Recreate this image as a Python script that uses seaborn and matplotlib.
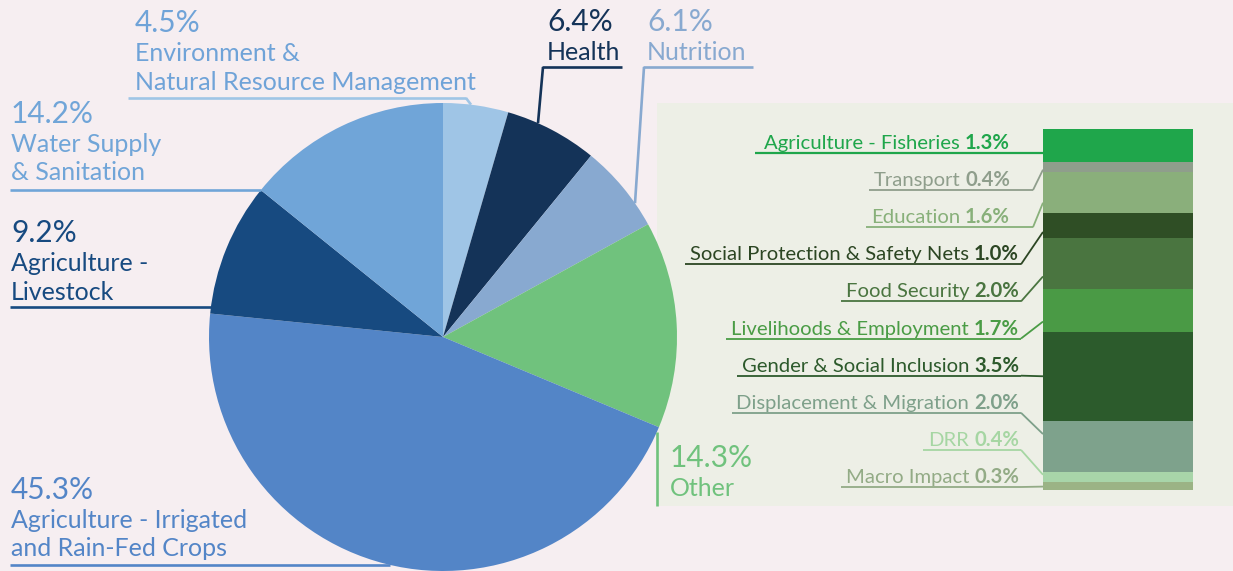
import numpy as np
import pandas as pd
import seaborn as sns
import matplotlib
matplotlib.use("Agg")
import matplotlib.pyplot as plt
from matplotlib.patches import Rectangle

# ---------------- data ----------------
sectors = ["Environment &\nNatural Resource Management", "Health", "Nutrition", "Other",
           "Agriculture - Irrigated\nand Rain-Fed Crops", "Agriculture -\nLivestock",
           "Water Supply\n& Sanitation"]
shares = [4.5, 6.4, 6.1, 14.3, 45.3, 9.2, 14.2]
share_labels = ["4.5%", "6.4%", "6.1%", "14.3%", "45.3%", "9.2%", "14.2%"]
pie_colors = ["#9fc5e6", "#143358", "#88a9d0", "#70c27d", "#5385c7", "#174a80", "#70a5d8"]
text_colors = ["#6fa3d8", "#143358", "#88a9d0", "#70c27d", "#5385c7", "#174a80", "#70a5d8"]
line_colors = ["#9fc5e6", "#143358", "#88a9d0", "#70c27d", "#5385c7", "#174a80", "#70a5d8"]

other_cats = ["Agriculture - Fisheries", "Transport", "Education",
              "Social Protection & Safety Nets", "Food Security",
              "Livelihoods & Employment", "Gender & Social Inclusion",
              "Displacement & Migration", "DRR", "Macro Impact"]
other_vals = [1.3, 0.4, 1.6, 1.0, 2.0, 1.7, 3.5, 2.0, 0.4, 0.3]
other_labels = ["1.3%", "0.4%", "1.6%", "1.0%", "2.0%", "1.7%", "3.5%", "2.0%", "0.4%", "0.3%"]
bar_colors = ["#1fa64b", "#8f9e8c", "#8aaf7b", "#2f4e25", "#4a7540",
              "#4a9a45", "#2c5b2c", "#7ea28c", "#a8d5a9", "#9bb385"]
other_text_colors = ["#1fa64b", "#8f9e8c", "#88b07a", "#2c4623", "#4a7540",
                     "#4a9c45", "#2d5a2c", "#7ea08a", "#a6d6a3", "#93ab86"]

# ---------------- style ----------------
sns.set_theme(style="white")
FONT = ["Lato", "DejaVu Sans"]
plt.rcParams["font.family"] = FONT

W, H = 1233, 571
BG = "#f6eef1"
PANEL = "#edefe6"

fig = plt.figure(figsize=(W / 100, H / 100), dpi=100, facecolor=BG)
ax = fig.add_axes([0, 0, 1, 1])
ax.set_facecolor(BG)


def Y(yp):
    return H - yp


# panel behind the pie
ax.add_patch(Rectangle((657, Y(506)), W - 657 + 5, 403, facecolor=PANEL, edgecolor="none", zorder=0))

# pie
CX, CY, R = 443, 337, 234
ax.pie(shares, colors=pie_colors, startangle=90, counterclock=False,
       center=(CX, Y(CY)), radius=R, wedgeprops=dict(linewidth=0))
ax.set_xlim(0, W)
ax.set_ylim(0, H)
ax.set_aspect("auto")
ax.axis("off")


def circ_y(x, lower=False):
    d = np.sqrt(R ** 2 - (x - CX) ** 2)
    return CY + d if lower else CY - d


def circ_x(y):
    return CX - np.sqrt(R ** 2 - (y - CY) ** 2)


PCT_FS = 21.5
NAME_FS = 18
LW = 1.9


def pie_label(i, x, pct_base, line_gap=28.5):
    ax.text(x, Y(pct_base), share_labels[i], fontsize=PCT_FS, color=text_colors[i],
            va="baseline", ha="left")
    for k, line in enumerate(sectors[i].split("\n")):
        ax.text(x, Y(pct_base + 29 + k * line_gap), line, fontsize=NAME_FS,
                color=text_colors[i], va="baseline", ha="left")


def seg(x0, y0, x1, y1, color, lw=LW):
    ax.plot([x0, x1], [Y(y0), Y(y1)], color=color, lw=lw, solid_capstyle="butt", zorder=3)


# Environment
pie_label(0, 135, 32)
seg(128, 98, 466, 98, line_colors[0])
seg(466, 98, 471, circ_y(471), line_colors[0])
# Health
pie_label(1, 547, 31)
seg(542, 67, 622, 67, line_colors[1])
seg(543, 67, 538, circ_y(538), line_colors[1])
# Nutrition
pie_label(2, 647, 31)
seg(643, 67, 753, 67, line_colors[2])
seg(644, 67, 635, circ_y(635), line_colors[2])
# Water
pie_label(6, 11, 123)
seg(10, 190, circ_x(190), 190, line_colors[6])
# Livestock
pie_label(5, 11, 242)
seg(10, 307, circ_x(307), 307, line_colors[5])
# Irrigated
pie_label(4, 11, 499)
seg(10, 565, circ_x(565), 565, line_colors[4])
# Other
pie_label(3, 670, 467)
seg(657, circ_y(657, lower=True), 657, 506, line_colors[3])

# ---------------- stacked bar (seaborn) ----------------
BX0, BX1, BY0, BY1 = 1043, 1193, 129, 490
bax = fig.add_axes([BX0 / W, (H - BY1) / H, (BX1 - BX0) / W, (BY1 - BY0) / H])
total = float(np.sum(other_vals))
cum = np.cumsum(other_vals)
order = np.argsort(-cum)
for j in order:
    df = pd.DataFrame({"x": ["Other"], "v": [cum[j]]})
    sns.barplot(data=df, x="x", y="v", color=bar_colors[j], width=1.0,
                saturation=1, ax=bax, linewidth=0)
bax.set_xlim(-0.5, 0.5)
bax.set_ylim(total, 0)
bax.axis("off")
bax.patch.set_alpha(0)

# ---------------- labels for the bar ----------------
fig.canvas.draw()
rend = fig.canvas.get_renderer()
baselines = np.linspace(149, 483, len(other_cats))
right_x = [1010, 1010, 1010] + [1019] * 7
LABEL_FS = 14.6
starts = np.concatenate([[0], cum[:-1]])
for i, name in enumerate(other_cats):
    b = baselines[i]
    col = other_text_colors[i]
    tp = ax.text(right_x[i], Y(b), other_labels[i], fontsize=LABEL_FS, color=col,
                 ha="right", va="baseline", fontweight="bold")
    ext = tp.get_window_extent(rend)
    tn = ax.text(ext.x0 - 5, Y(b), name, fontsize=LABEL_FS, color=col,
                 ha="right", va="baseline")
    ext_n = tn.get_window_extent(rend)
    uy = b + 4
    top = H - bax.transData.transform((0, starts[i]))[1]
    bot = H - bax.transData.transform((0, cum[i]))[1]
    h = bot - top
    mid = 0.5 * (top + bot)
    ty = float(np.clip(0.5 * (uy + mid) if i > 0 else uy, top + 0.25 * h, bot - 0.25 * h))
    ux_end = 1033 if i in (1, 2) else right_x[i] + 2
    left = ext_n.x0 - (9 if i == 0 else 5)
    if i == 0:
        seg(left, ty, BX0, ty, col, lw=1.6)
    else:
        seg(left, uy, ux_end, uy, col, lw=1.3)
        seg(ux_end, uy, BX0, ty, col, lw=1.3)

fig.savefig("out.png", dpi=100, facecolor=BG)
